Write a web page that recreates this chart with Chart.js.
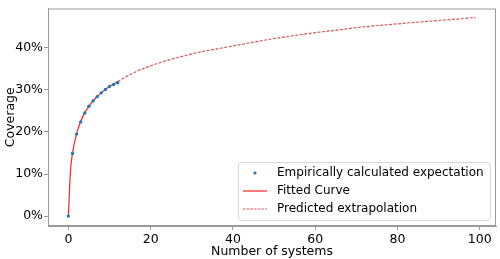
<!DOCTYPE html>
<html>
<head>
<meta charset="utf-8">
<script src="https://cdn.jsdelivr.net/npm/chart.js@4.4.0/dist/chart.umd.min.js"></script>
<style>
  html, body { margin: 0; padding: 0; background: #fff; }
  #wrap { width: 500px; height: 259px; }
</style>
</head>
<body>
<div id="wrap"><canvas id="chart" width="500" height="259"></canvas></div>
<script>
// empirical points (number of systems -> coverage %)
var empSystems  = [0, 1, 2, 3, 4, 5, 6, 7, 8, 9, 10, 11, 12];
var empCoverage = [0, 14.9, 19.5, 22.4, 24.5, 26.1, 27.4, 28.4, 29.3, 30.1, 30.8, 31.3, 31.7];

// fitted curve, solid part
var fitSystems  = [0, 0.5, 1, 2, 3, 4, 5, 6, 7, 8, 9, 10, 11, 12];
var fitCoverage = [0, 10.5, 14.9, 19.6, 22.5, 24.6, 26.1, 27.4, 28.4, 29.3, 30.1, 30.8, 31.4, 32.0];

// predicted extrapolation, dashed part
var extSystems  = [12, 14, 17, 20, 22, 27, 32, 37, 42, 50, 60, 66, 70, 80, 86, 90, 99];
var extCoverage = [32.0, 33.1, 34.6, 35.7, 36.4, 37.8, 39.0, 39.9, 40.8, 42.2, 43.6, 44.3, 44.8, 45.7, 46.2, 46.5, 47.2];

var xTicks = [0, 20, 40, 60, 80, 100];
var yTicks = [0, 10, 20, 30, 40];

var legendItems = ['Empirically calculated expectation', 'Fitted Curve', 'Predicted extrapolation'];

function pts(xs, ys){ return xs.map(function(x, i){ return { x: x, y: ys[i] }; }); }

var FONT = 'DejaVu Sans';
var DASH_COL = 'rgba(200,60,60,0.85)';

// frame round the plot + legend box in lower right
var framePlugin = {
  id: 'frame',
  afterDraw: function(chart){
    var ctx = chart.ctx, a = chart.chartArea;
    ctx.save();
    ctx.strokeStyle = '#9a9a9a';
    ctx.lineWidth = 1;
    ctx.strokeRect(a.left + 0.5, a.top + 0.5, a.right - a.left - 1, a.bottom - a.top - 1);

    // legend
    var bx = a.right - 258, by = a.bottom - 64, bw = 252, bh = 58;
    ctx.beginPath();
    ctx.roundRect(bx + 0.5, by + 0.5, bw, bh, 3);
    ctx.fillStyle = 'rgba(255,255,255,0.8)';
    ctx.fill();
    ctx.strokeStyle = '#d6d6d6';
    ctx.stroke();

    ctx.font = '12px "' + FONT + '"';
    ctx.fillStyle = '#000';
    ctx.textBaseline = 'middle';
    var tx = bx + 39;
    var rows = [by + 11, by + 29, by + 47];
    rows.forEach(function(ry, i){ ctx.fillText(legendItems[i], tx, ry); });

    // markers
    ctx.fillStyle = '#1f77b4';
    ctx.beginPath(); ctx.arc(bx + 17, rows[0], 1.6, 0, Math.PI * 2); ctx.fill();
    ctx.strokeStyle = '#ff2020'; ctx.lineWidth = 1.2;
    ctx.beginPath(); ctx.moveTo(bx + 5, rows[1]); ctx.lineTo(bx + 29, rows[1]); ctx.stroke();
    ctx.strokeStyle = DASH_COL; ctx.setLineDash([2.5, 1.2]);
    ctx.beginPath(); ctx.moveTo(bx + 5, rows[2]); ctx.lineTo(bx + 29, rows[2]); ctx.stroke();
    ctx.restore();
  }
};

new Chart(document.getElementById('chart').getContext('2d'), {
  type: 'scatter',
  data: {
    datasets: [
      {
        label: legendItems[2],
        data: pts(extSystems, extCoverage),
        showLine: true,
        borderColor: DASH_COL,
        borderWidth: 1.2,
        borderDash: [3, 1.5],
        pointRadius: 0,
        cubicInterpolationMode: 'monotone',
        order: 3
      },
      {
        label: legendItems[1],
        data: pts(fitSystems, fitCoverage),
        showLine: true,
        borderColor: '#ff2020',
        borderWidth: 1.2,
        pointRadius: 0,
        cubicInterpolationMode: 'monotone',
        order: 2
      },
      {
        label: legendItems[0],
        data: pts(empSystems, empCoverage),
        backgroundColor: '#1f77b4',
        borderWidth: 0,
        pointRadius: 1.7,
        order: 1
      }
    ]
  },
  options: {
    responsive: false,
    animation: false,
    layout: { padding: { left: 3, top: 4, right: 3, bottom: 0 } },
    plugins: { legend: { display: false }, tooltip: { enabled: false } },
    scales: {
      x: {
        type: 'linear',
        min: -4.95, max: 103.95,
        afterBuildTicks: function(s){ s.ticks = xTicks.map(function(v){ return { value: v }; }); },
        afterFit: function(s){ s.height = 33; },
        grid: { drawOnChartArea: false, tickLength: 4, color: '#9a9a9a' },
        border: { color: '#9a9a9a' },
        ticks: { color: '#000', font: { family: FONT, size: 12.5 }, padding: 2, maxRotation: 0 },
        title: { display: true, text: 'Number of systems', color: '#000', font: { family: FONT, size: 12.5 }, padding: { top: 0, bottom: 0 } }
      },
      y: {
        type: 'linear',
        min: -2.35, max: 49.35,
        afterBuildTicks: function(s){ s.ticks = yTicks.map(function(v){ return { value: v }; }); },
        afterFit: function(s){ s.width = 45; },
        grid: { drawOnChartArea: false, tickLength: 4, color: '#9a9a9a' },
        border: { color: '#9a9a9a' },
        ticks: {
          color: '#000', font: { family: FONT, size: 12.5 }, padding: 1,
          callback: function(v){ return v + '%'; }
        },
        title: { display: true, text: 'Coverage', color: '#000', font: { family: FONT, size: 12.5 }, padding: { top: 0, bottom: 0 } }
      }
    }
  },
  plugins: [framePlugin]
});
</script>
</body>
</html>
